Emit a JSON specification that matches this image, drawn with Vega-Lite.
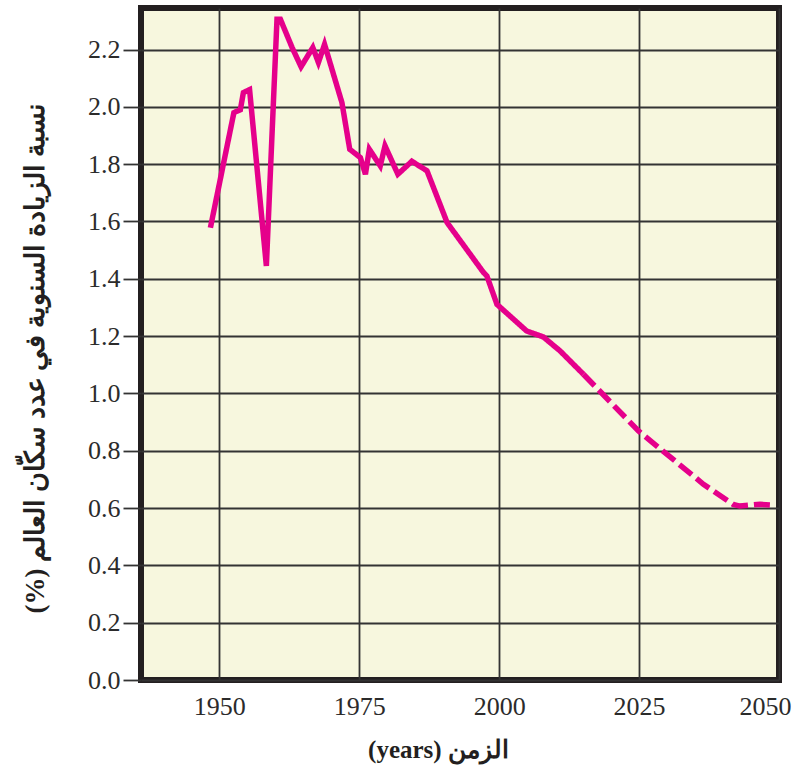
{
  "$schema": "https://vega.github.io/schema/vega-lite/v6.json",
  "autosize": "none",
  "width": 638,
  "height": 672,
  "padding": {"left": 141, "top": 8, "right": 19, "bottom": 99},
  "background": "white",
  "config": {
    "view": {"fill": "#f7f7de", "stroke": "#231f20", "strokeWidth": 6},
    "font": "Liberation Serif"
  },
  "data": {
    "values": [
      {"year": 1948.4, "rate": 1.578, "kind": "actual"},
      {"year": 1952.6, "rate": 1.98, "kind": "actual"},
      {"year": 1953.75, "rate": 1.99, "kind": "actual"},
      {"year": 1954.3, "rate": 2.05, "kind": "actual"},
      {"year": 1955.4, "rate": 2.06, "kind": "actual"},
      {"year": 1958.4, "rate": 1.445, "kind": "actual"},
      {"year": 1960.3, "rate": 2.306, "kind": "actual"},
      {"year": 1960.9, "rate": 2.306, "kind": "actual"},
      {"year": 1963.0, "rate": 2.207, "kind": "actual"},
      {"year": 1964.6, "rate": 2.14, "kind": "actual"},
      {"year": 1966.7, "rate": 2.207, "kind": "actual"},
      {"year": 1967.7, "rate": 2.155, "kind": "actual"},
      {"year": 1968.8, "rate": 2.218, "kind": "actual"},
      {"year": 1971.9, "rate": 2.015, "kind": "actual"},
      {"year": 1973.3, "rate": 1.852, "kind": "actual"},
      {"year": 1975.2, "rate": 1.823, "kind": "actual"},
      {"year": 1976.1, "rate": 1.765, "kind": "actual"},
      {"year": 1976.8, "rate": 1.852, "kind": "actual"},
      {"year": 1978.75, "rate": 1.794, "kind": "actual"},
      {"year": 1979.6, "rate": 1.864, "kind": "actual"},
      {"year": 1981.9, "rate": 1.765, "kind": "actual"},
      {"year": 1984.4, "rate": 1.81, "kind": "actual"},
      {"year": 1987.1, "rate": 1.777, "kind": "actual"},
      {"year": 1990.7, "rate": 1.596, "kind": "actual"},
      {"year": 1997.2, "rate": 1.422, "kind": "actual"},
      {"year": 1997.8, "rate": 1.41, "kind": "actual"},
      {"year": 1999.6, "rate": 1.311, "kind": "actual"},
      {"year": 2004.9, "rate": 1.218, "kind": "actual"},
      {"year": 2007.9, "rate": 1.197, "kind": "actual"},
      {"year": 2010.9, "rate": 1.148, "kind": "actual"},
      {"year": 2015.05, "rate": 1.067, "kind": "actual"},
      {"year": 2015.05, "rate": 1.067, "kind": "projected"},
      {"year": 2024.9, "rate": 0.869, "kind": "projected"},
      {"year": 2036.5, "rate": 0.683, "kind": "projected"},
      {"year": 2041.8, "rate": 0.613, "kind": "projected"},
      {"year": 2043.0, "rate": 0.607, "kind": "projected"},
      {"year": 2046.6, "rate": 0.613, "kind": "projected"},
      {"year": 2049.3, "rate": 0.61, "kind": "projected"}
    ]
  },
  "mark": {"type": "line", "color": "#e5008b", "strokeWidth": 5.5, "strokeJoin": "miter", "strokeCap": "butt", "clip": true},
  "encoding": {
    "x": {
      "field": "year",
      "type": "quantitative",
      "scale": {"domain": [1936, 2050], "nice": false, "zero": false},
      "axis": {
        "values": [1950, 1975, 2000, 2025, 2050],
        "format": "d",
        "domain": false,
        "ticks": false,
        "tickSize": 0,
        "grid": true,
        "gridColor": "#333333",
        "gridWidth": 1.8,
        "gridOpacity": 1,
        "labelFont": "Liberation Serif",
        "labelFontSize": 26,
        "labelColor": "#2b2b2b",
        "labelPadding": 13,
        "labelFlush": true,
        "labelFlushOffset": 12,
        "labelOverlap": false,
        "title": "(years) الزمن",
        "titleFont": "Liberation Serif",
        "titleFontSize": 25,
        "titleFontWeight": "bold",
        "titleColor": "#231f20",
        "titleX": 297,
        "titleY": 69,
        "titleBaseline": "middle",
        "titleAnchor": "middle"
      }
    },
    "y": {
      "field": "rate",
      "type": "quantitative",
      "scale": {"domain": [0, 2.345], "nice": false},
      "axis": {
        "values": [0, 0.2, 0.4, 0.6, 0.8, 1.0, 1.2, 1.4, 1.6, 1.8, 2.0, 2.2],
        "format": ".1f",
        "domain": false,
        "ticks": true,
        "tickSize": 18,
        "tickColor": "#333333",
        "tickWidth": 1.8,
        "grid": true,
        "gridColor": "#333333",
        "gridWidth": 1.8,
        "gridOpacity": 1,
        "labelFont": "Liberation Serif",
        "labelFontSize": 26,
        "labelColor": "#2b2b2b",
        "labelPadding": 3,
        "labelFlush": false,
        "labelOverlap": false,
        "title": "(%) نسبة الزيادة السنوية في عدد سكّان العالم",
        "titleFont": "Liberation Serif",
        "titleFontSize": 27,
        "titleFontWeight": "bold",
        "titleColor": "#231f20",
        "titleX": -106,
        "titleY": 350,
        "titleAngle": -90,
        "titleBaseline": "middle",
        "titleAnchor": "middle"
      }
    },
    "strokeDash": {
      "field": "kind",
      "type": "nominal",
      "scale": {"domain": ["actual", "projected"], "range": [[1, 0], [16, 6]]},
      "legend": null
    }
  }
}
